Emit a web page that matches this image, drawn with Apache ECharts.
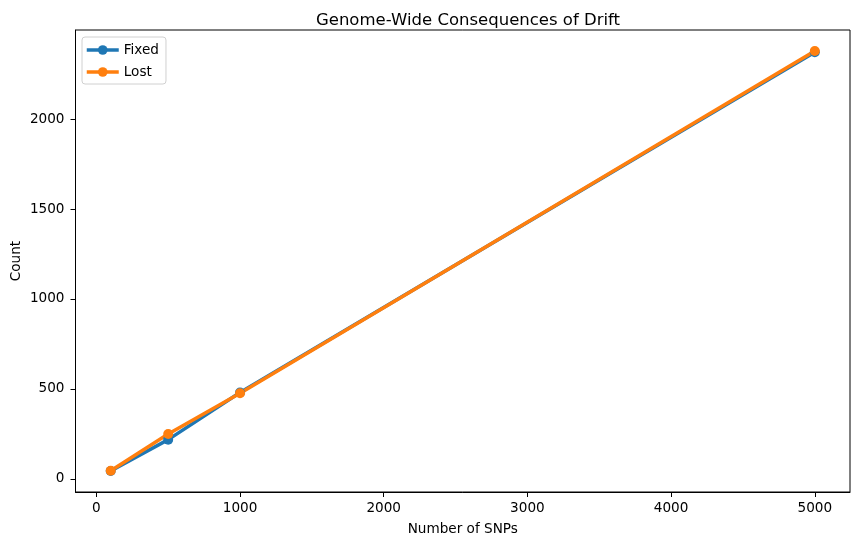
<!DOCTYPE html>
<html>
<head>
<meta charset="utf-8">
<script src="https://cdn.jsdelivr.net/npm/echarts@6/dist/echarts.min.js"></script>
<style>
html, body { margin: 0; padding: 0; background: #fff; }
#chartmain { width: 859px; height: 545px; }
</style>
</head>
<body>
<div id="chartmain"></div>
<script>
var snps = [100, 500, 1000, 5000];
var fixedCounts = [44, 218, 480, 2371];
var lostCounts = [45, 249, 476, 2378];
var xTicks = [0, 1000, 2000, 3000, 4000, 5000];
var yTicks = [0, 500, 1000, 1500, 2000];

function pairs(xs, ys) {
    var out = [];
    for (var i = 0; i < xs.length; i++) {
        out.push([xs[i], ys[i]]);
    }
    return out;
}

var font = 'DejaVu Sans';
var fs = 13.6;
var plain = function(v) { return String(v); };
var option = {
    animation: false,
    title: {
        text: 'Genome-Wide Consequences of Drift',
        left: 463,
        textAlign: 'center',
        top: 7,
        textStyle: { fontFamily: font, fontSize: 16.5, fontWeight: 'normal', color: '#000' }
    },
    legend: {
        left: 82,
        top: 37,
        orient: 'vertical',
        itemWidth: 32,
        itemHeight: 12,
        itemGap: 8,
        padding: [6, 7, 5, 3],
        borderColor: '#d0d0d0',
        borderWidth: 1,
        borderRadius: 3,
        lineStyle: { width: 3.5 },
        textStyle: { fontFamily: font, fontSize: fs, color: '#000' },
        data: ['Fixed', 'Lost']
    },
    grid: {
        left: 75.5,
        right: 9,
        top: 30,
        bottom: 53,
        outerBoundsMode: 'none',
        containLabel: false,
        show: true,
        borderColor: '#000',
        borderWidth: 1
    },
    xAxis: {
        type: 'value',
        min: -145,
        max: 5245,
        name: 'Number of SNPs',
        nameLocation: 'middle',
        nameGap: 30,
        nameMoveOverlap: false,
        nameTextStyle: { fontFamily: font, fontSize: fs, color: '#000' },
        axisLine: { show: true, onZero: false, lineStyle: { color: '#000', width: 1 } },
        axisTick: { show: true, inside: false, length: 5, customValues: xTicks, lineStyle: { color: '#000' } },
        axisLabel: { fontFamily: font, fontSize: fs, color: '#000', margin: 9, customValues: xTicks, formatter: plain },
        splitLine: { show: false }
    },
    yAxis: {
        type: 'value',
        min: -73,
        max: 2495,
        name: 'Count',
        nameLocation: 'middle',
        nameGap: 52,
        nameMoveOverlap: false,
        nameTextStyle: { fontFamily: font, fontSize: fs, color: '#000' },
        axisLine: { show: true, onZero: false, lineStyle: { color: '#000', width: 1 } },
        axisTick: { show: true, inside: false, length: 5, customValues: yTicks, lineStyle: { color: '#000' } },
        axisLabel: { fontFamily: font, fontSize: fs, color: '#000', margin: 11, customValues: yTicks, formatter: plain },
        splitLine: { show: false }
    },
    series: [{
        name: 'Fixed',
        type: 'line',
        data: pairs(snps, fixedCounts),
        symbol: 'circle',
        symbolSize: 10,
        color: '#1f77b4',
        lineStyle: { width: 3.5, color: '#1f77b4' },
        itemStyle: { color: '#1f77b4' }
    }, {
        name: 'Lost',
        type: 'line',
        data: pairs(snps, lostCounts),
        symbol: 'circle',
        symbolSize: 10,
        color: '#ff7f0e',
        lineStyle: { width: 3.5, color: '#ff7f0e' },
        itemStyle: { color: '#ff7f0e' }
    }]
};

var myChart = echarts.init(document.getElementById('chartmain'));
myChart.setOption(option);
</script>
</body>
</html>
